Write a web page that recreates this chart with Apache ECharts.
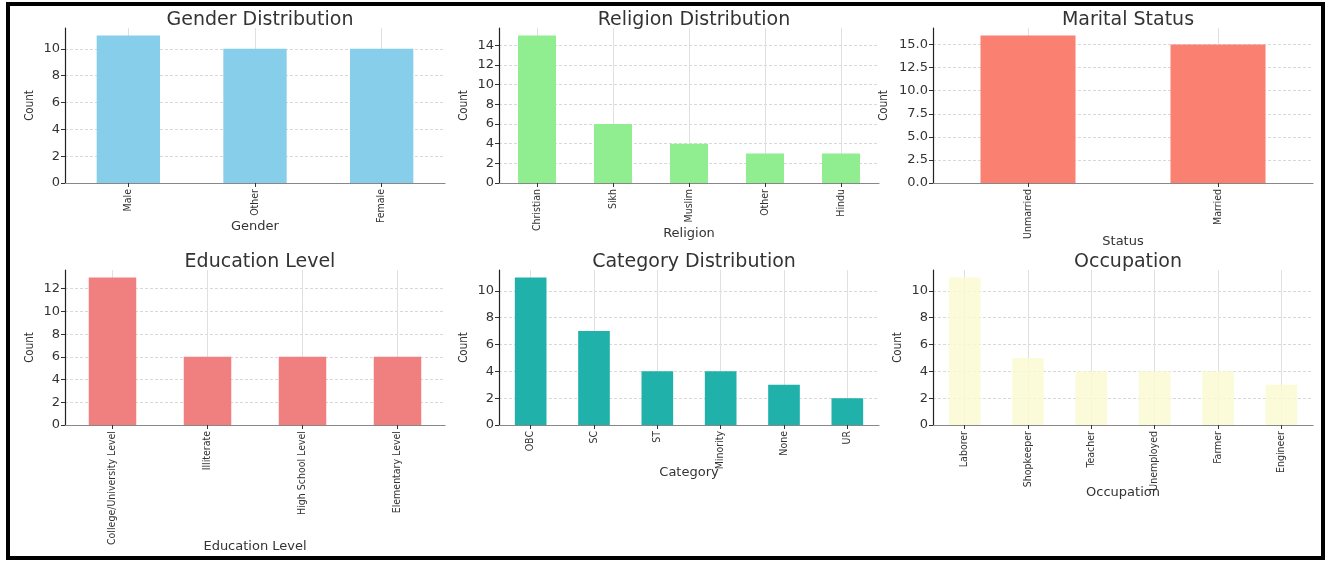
<!DOCTYPE html>
<html>
<head>
<meta charset="utf-8">
<script src="https://cdn.jsdelivr.net/npm/echarts@6/dist/echarts.min.js"></script>
<style>
html,body{margin:0;padding:0;background:#fff;}
#chart{width:1332px;height:563px;}
</style>
</head>
<body>
<div id="chart"></div>
<script>
// ---- Data ----
const genderCats = ['Male', 'Other', 'Female'];
const genderVals = [11, 10, 10];

const religionCats = ['Christian', 'Sikh', 'Muslim', 'Other', 'Hindu'];
const religionVals = [15, 6, 4, 3, 3];

const maritalCats = ['Unmarried', 'Married'];
const maritalVals = [16, 15];

const educationCats = ['College/University Level', 'Illiterate', 'High School Level', 'Elementary Level'];
const educationVals = [13, 6, 6, 6];

const categoryCats = ['OBC', 'SC', 'ST', 'Minority', 'None', 'UR'];
const categoryVals = [11, 7, 4, 4, 3, 2];

const occupationCats = ['Laborer', 'Shopkeeper', 'Teacher', 'Unemployed', 'Farmer', 'Engineer'];
const occupationVals = [11, 5, 4, 4, 4, 3];

const panelTitles = ['Gender Distribution', 'Religion Distribution', 'Marital Status', 'Education Level', 'Category Distribution', 'Occupation'];
const xNames = ['Gender', 'Religion', 'Status', 'Education Level', 'Category', 'Occupation'];
const yName = 'Count';

// ---- Layout / style ----
const panels = [
  {cats: genderCats, vals: genderVals, color: '#87CEEB', left: 65, top: 28, interval: 2, dec: 0, xGap: 37, yGap: 29, opacity: 1},
  {cats: religionCats, vals: religionVals, color: '#90EE90', left: 499, top: 28, interval: 2, dec: 0, xGap: 44, yGap: 29, opacity: 1},
  {cats: maritalCats, vals: maritalVals, color: '#FA8072', left: 933, top: 28, interval: 2.5, dec: 1, xGap: 52, yGap: 43, opacity: 1},
  {cats: educationCats, vals: educationVals, color: '#F08080', left: 65, top: 270, interval: 2, dec: 0, xGap: 115, yGap: 29, opacity: 1},
  {cats: categoryCats, vals: categoryVals, color: '#20B2AA', left: 499, top: 270, interval: 2, dec: 0, xGap: 41, yGap: 29, opacity: 1},
  {cats: occupationCats, vals: occupationVals, color: '#FAFAD2', left: 933, top: 270, interval: 2, dec: 0, xGap: 61, yGap: 29, opacity: 0.85}
];
const W = 380, H = 155;
const narrow = "'Liberation Sans Narrow', 'DejaVu Sans Condensed', 'Roboto Condensed', sans-serif";
const wide = "'DejaVu Sans', sans-serif";
const textColor = '#333';

const option = {
  backgroundColor: '#fff',
  animation: false,
  title: panels.map((p, i) => ({
    text: panelTitles[i],
    left: p.left + W / 2,
    top: p.top - 22,
    textAlign: 'center',
    textStyle: {fontFamily: wide, fontSize: 19, fontWeight: 'normal', color: textColor}
  })),
  grid: panels.map(p => ({left: p.left, top: p.top, width: W, height: H, containLabel: false, outerBoundsMode: 'none'})),
  xAxis: panels.map((p, i) => ({
    type: 'category',
    gridIndex: i,
    data: p.cats,
    boundaryGap: true,
    name: xNames[i],
    nameLocation: 'middle',
    nameGap: p.xGap,
    nameMoveOverlap: false,
    nameTextStyle: {fontFamily: wide, fontSize: 13, color: textColor},
    axisLine: {show: true, lineStyle: {color: '#888', width: 1.2}},
    axisTick: {show: true, alignWithLabel: true, length: 4, lineStyle: {color: '#333'}},
    axisLabel: {rotate: 90, interval: 0, margin: 6, fontFamily: narrow, fontSize: 10.5, color: textColor},
    splitLine: {show: true, alignWithLabel: true, lineStyle: {color: '#e0e0e0', width: 1}}
  })),
  yAxis: panels.map((p, i) => ({
    type: 'value',
    gridIndex: i,
    min: 0,
    max: Math.max(...p.vals) * 1.05,
    interval: p.interval,
    name: yName,
    nameLocation: 'middle',
    nameGap: p.yGap,
    nameMoveOverlap: false,
    nameTextStyle: {fontFamily: narrow, fontSize: 11.5, color: textColor},
    axisLine: {show: true, lineStyle: {color: '#222', width: 1.2}},
    axisTick: {show: true, length: 4, lineStyle: {color: '#333'}},
    axisLabel: {
      showMaxLabel: false,
      margin: 5,
      fontFamily: wide,
      fontSize: 13,
      color: textColor,
      formatter: v => v.toFixed(p.dec)
    },
    splitLine: {show: true, showMaxLine: false, lineStyle: {color: '#d8d8d8', type: [3, 2], width: 1}}
  })),
  series: panels.map((p, i) => ({
    type: 'bar',
    xAxisIndex: i,
    yAxisIndex: i,
    data: p.vals,
    barWidth: '50%',
    itemStyle: {color: p.color, opacity: p.opacity},
    z: 2
  })),
  graphic: [{
    type: 'rect',
    shape: {x: 8, y: 4, width: 1315, height: 554},
    style: {fill: 'none', stroke: '#000', lineWidth: 4},
    z: 100
  }]
};

const chart = echarts.init(document.getElementById('chart'), null, {renderer: 'canvas'});
chart.setOption(option);
</script>
</body>
</html>
